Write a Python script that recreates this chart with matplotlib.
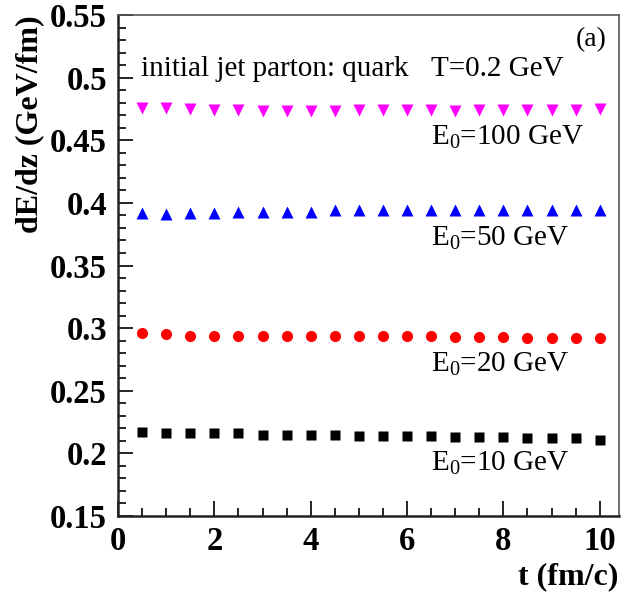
import matplotlib.pyplot as plt
import numpy as np
from matplotlib.ticker import MultipleLocator

plt.rcParams['font.family'] = ['Liberation Serif', 'DejaVu Serif']
plt.rcParams['mathtext.fontset'] = 'custom'
plt.rcParams['mathtext.rm'] = 'Liberation Serif'
plt.rcParams['mathtext.it'] = 'Liberation Serif:italic'

t = [0.5, 1.0, 1.5, 2.0, 2.5, 3.0, 3.5, 4.0, 4.5, 5.0,
     5.5, 6.0, 6.5, 7.0, 7.5, 8.0, 8.5, 9.0, 9.5, 10.0]

e100 = [0.476, 0.476, 0.475, 0.474, 0.474, 0.473, 0.473, 0.473, 0.473, 0.474,
        0.474, 0.474, 0.474, 0.473, 0.474, 0.474, 0.474, 0.474, 0.474, 0.475]
e50 = [0.392, 0.391, 0.392, 0.392, 0.393, 0.393, 0.393, 0.393, 0.394, 0.394,
       0.394, 0.394, 0.394, 0.394, 0.394, 0.394, 0.394, 0.394, 0.394, 0.394]
e20 = [0.296, 0.295, 0.294, 0.294, 0.294, 0.294, 0.294, 0.294, 0.294, 0.294,
       0.294, 0.294, 0.294, 0.293, 0.293, 0.293, 0.292, 0.292, 0.292, 0.292]
e10 = [0.217, 0.216, 0.216, 0.216, 0.216, 0.215, 0.215, 0.215, 0.215, 0.214,
       0.214, 0.214, 0.214, 0.213, 0.213, 0.213, 0.212, 0.212, 0.212, 0.211]

labels = ['E$_\\mathrm{0}$=100 GeV', 'E$_\\mathrm{0}$=50 GeV',
          'E$_\\mathrm{0}$=20 GeV', 'E$_\\mathrm{0}$=10 GeV']
label_y = [0.452, 0.372, 0.271, 0.192]

fig = plt.figure(figsize=(6.41, 5.98), dpi=100)
ax = fig.add_axes([0.1841, 0.1371, 0.9657 - 0.1841, 0.9749 - 0.1371])

ax.plot(t, e100, 'v', color='#ff00ff', ms=8, mec='none')
ax.plot(t, e50, '^', color='#0000ff', ms=8, mec='none')
ax.plot(t, e20, 'o', color='#ff0000', ms=8, mec='none')
ax.plot(t, e10, 's', color='black', ms=7.5, mec='none')

ax.set_xlim(0, 10.4)
ax.set_ylim(0.15, 0.55)
ax.xaxis.set_major_locator(MultipleLocator(2))
ax.xaxis.set_minor_locator(MultipleLocator(0.5))
ax.yaxis.set_major_locator(MultipleLocator(0.05))
ax.yaxis.set_minor_locator(MultipleLocator(0.01))
ax.set_xticks([0, 2, 4, 6, 8, 10])
ax.set_xticklabels(['0', '2', '4', '6', '8', '10'])
ax.set_yticks([0.15, 0.2, 0.25, 0.3, 0.35, 0.4, 0.45, 0.5, 0.55])
ax.set_yticklabels(['0.15', '0.2', '0.25', '0.3', '0.35', '0.4', '0.45', '0.5', '0.55'])

ax.tick_params(which='both', direction='in', top=False, right=False, width=1.2)
ax.tick_params(which='major', length=11, labelsize=23.5)
ax.tick_params(axis='y', which='major', pad=8)
ax.tick_params(axis='x', which='major', pad=7)
ax.tick_params(which='minor', length=6)
for lab in ax.get_xticklabels() + ax.get_yticklabels():
    lab.set_fontweight('bold')

for s in ['left', 'bottom']:
    ax.spines[s].set_linewidth(1.8)
    ax.spines[s].set_color('#222222')
for s in ['top', 'right']:
    ax.spines[s].set_linewidth(1.2)
    ax.spines[s].set_color('#555555')

fig.text(0.965, 0.035, 't (fm/c)', fontsize=23, fontweight='bold', ha='right', va='center')
fig.text(0.047, 0.975, 'dE/dz (GeV/fm)', fontsize=23, fontweight='bold',
         rotation=90, ha='center', va='top')

ax.text(0.045, 0.893, 'initial jet parton: quark', transform=ax.transAxes, fontsize=21, va='center')
ax.text(0.625, 0.893, 'T=0.2 GeV', transform=ax.transAxes, fontsize=21, va='center')
ax.text(0.975, 0.95, '(a)', transform=ax.transAxes, fontsize=20, ha='right', va='center')

for lab, y in zip(labels, label_y):
    ax.text(6.5, y, lab, fontsize=21, va='center')

fig.savefig('out.png', dpi=100)
